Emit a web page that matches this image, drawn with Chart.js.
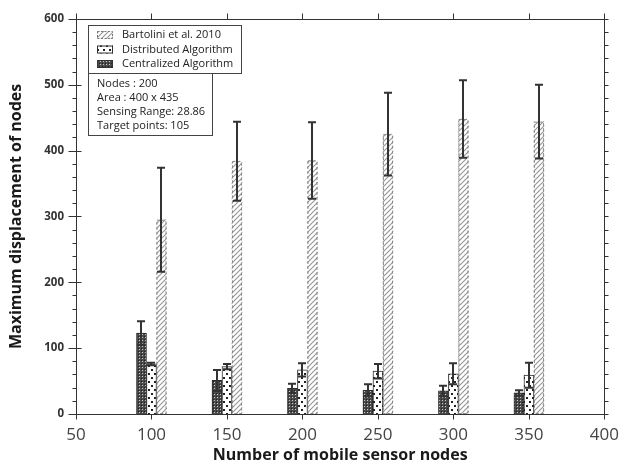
<!DOCTYPE html>
<html>
<head>
<meta charset="utf-8">
<script src="https://cdn.jsdelivr.net/npm/chart.js@4/dist/chart.umd.min.js"></script>
<style>
  html, body { margin: 0; padding: 0; background: #fff; }
  #wrap { width: 630px; height: 465px; }
</style>
</head>
<body>
<div id="wrap"><canvas id="c" width="630" height="465"></canvas></div>
<script>
// Number of mobile sensor nodes (x positions of the bar groups)
const nodeCounts = [100, 150, 200, 250, 300, 350];

// Mean maximum displacement and its spread for each method
const centralizedMean = [123, 51, 39, 36, 35, 32];
const centralizedErr  = [18, 16, 7, 9, 8, 4];
const distributedMean = [76, 72, 67, 65, 61, 59];
const distributedErr  = [2, 4, 10, 11, 16, 19];
const bartoliniMean   = [295, 384, 385, 425, 448, 444];
const bartoliniErr    = [79, 60, 58, 63, 59, 56];

const seriesNames = ['Centralized Algorithm', 'Distributed Algorithm', 'Bartolini et al. 2010'];
const xTicks = [50, 100, 150, 200, 250, 300, 350, 400];
const yTicks = [0, 100, 200, 300, 400, 500, 600];
const infoLines = ['Nodes : 200', 'Area : 400 x 435', 'Sensing Range: 28.86', 'Target points: 105'];

const FONT = '"Open Sans", "Liberation Sans", sans-serif';
const canvas = document.getElementById('c');
const ctx0 = canvas.getContext('2d');

function tile(w, h, paint) {
  const c = document.createElement('canvas');
  c.width = w; c.height = h;
  paint(c.getContext('2d'));
  return ctx0.createPattern(c, 'repeat');
}

// Fill patterns: hatching, dots and a dense checker
const hatchFill = tile(5, 5, g => {
  g.fillStyle = '#fff'; g.fillRect(0, 0, 5, 5);
  g.strokeStyle = '#959595'; g.lineWidth = 1.1;
  g.beginPath();
  g.moveTo(0, 5); g.lineTo(5, 0);
  g.moveTo(-1, 1); g.lineTo(1, -1);
  g.moveTo(4, 6); g.lineTo(6, 4);
  g.stroke();
});
const dotFill = tile(6, 8, g => {
  g.fillStyle = '#fff'; g.fillRect(0, 0, 6, 8);
  g.fillStyle = '#222';
  g.fillRect(1, 1, 2, 2);
  g.fillRect(4, 5, 2, 2);
});
const checkFill = tile(3, 3, g => {
  g.fillStyle = '#4a4a4a'; g.fillRect(0, 0, 3, 3);
  g.fillStyle = '#c8c8c8'; g.fillRect(1, 1, 1, 1);
  g.fillStyle = '#202020'; g.fillRect(0, 0, 1, 1);
});

const fills = [checkFill, dotFill, hatchFill];
const errs = [centralizedErr, distributedErr, bartoliniErr];
const means = [centralizedMean, distributedMean, bartoliniMean];

const datasets = seriesNames.map((name, k) => ({
  label: name,
  data: nodeCounts.map((n, i) => ({ x: n, y: means[k][i] })),
  backgroundColor: fills[k],
  borderColor: k === 2 ? 'rgba(0,0,0,0)' : '#2a2a2a',
  borderWidth: k === 2 ? 0 : 1,
  borderSkipped: 'bottom',
  barThickness: 10,
  grouped: true
}));

const decor = {
  id: 'decor',
  afterDatasetsDraw(chart) {
    const ctx = chart.ctx;
    const ys = chart.scales.y;
    // dashed outline of the hatched bars
    ctx.save();
    ctx.strokeStyle = '#8a8a8a'; ctx.lineWidth = 1; ctx.setLineDash([3, 2]);
    chart.getDatasetMeta(2).data.forEach(b => {
      const p = b.getProps(['x', 'y', 'base', 'width'], true);
      ctx.strokeRect(p.x - p.width / 2 + 0.5, p.y + 0.5, p.width - 1, p.base - p.y - 1);
    });
    ctx.restore();
    // error bars
    ctx.save();
    ctx.strokeStyle = '#333'; ctx.lineWidth = 2;
    chart.data.datasets.forEach((ds, di) => {
      chart.getDatasetMeta(di).data.forEach((b, i) => {
        const v = ds.data[i].y, e = errs[di][i];
        const yt = ys.getPixelForValue(v + e), yb = ys.getPixelForValue(v - e);
        const x = Math.round(b.x);
        ctx.beginPath();
        ctx.moveTo(x, yt); ctx.lineTo(x, yb);
        ctx.moveTo(x - 4, yt); ctx.lineTo(x + 4, yt);
        ctx.moveTo(x - 4, yb); ctx.lineTo(x + 4, yb);
        ctx.stroke();
      });
    });
    ctx.restore();
  },
  afterDraw(chart) {
    const ctx = chart.ctx;
    const a = chart.chartArea;
    const xs = chart.scales.x, ys = chart.scales.y;
    const L = Math.round(a.left) + 0.5, R = Math.round(a.right) + 0.5;
    const T = Math.round(a.top) + 0.5, B = Math.round(a.bottom) + 0.5;
    ctx.save();
    ctx.strokeStyle = '#333'; ctx.lineWidth = 1;
    ctx.strokeRect(L, T, R - L, B - T);
    ctx.beginPath();
    // x ticks (bottom and top)
    xTicks.forEach(v => {
      const x = Math.round(xs.getPixelForValue(v)) + 0.5;
      ctx.moveTo(x, B); ctx.lineTo(x, B + 5);
      ctx.moveTo(x, T); ctx.lineTo(x, T - 6);
    });
    // y ticks: majors every 100, minors every 20
    for (let v = 0; v <= 600; v += 20) {
      const y = Math.round(ys.getPixelForValue(v)) + 0.5;
      if (v % 100 === 0) { ctx.moveTo(L - 8, y); ctx.lineTo(L + 5, y); }
      else { ctx.moveTo(L - 4, y); ctx.lineTo(L, y); }
      ctx.moveTo(R, y); ctx.lineTo(R + 4, y);
    }
    ctx.stroke();

    // legend box
    const lx = 88.5, ly = 25.5, lw = 153, lh = 48;
    ctx.fillStyle = '#fff';
    ctx.fillRect(lx, ly, lw, lh);
    ctx.strokeStyle = '#444';
    ctx.strokeRect(lx, ly, lw, lh);
    ctx.font = '11px ' + FONT;
    ctx.textBaseline = 'middle';
    ctx.textAlign = 'left';
    [2, 1, 0].forEach((k, row) => {
      const cy = 35 + row * 14.5;
      ctx.fillStyle = fills[k];
      ctx.fillRect(97, cy - 4, 16, 8);
      if (k === 2) {
        ctx.save(); ctx.setLineDash([2, 1.5]); ctx.strokeStyle = '#777';
        ctx.strokeRect(97.5, cy - 3.5, 15, 7); ctx.restore();
      } else {
        ctx.strokeStyle = '#333'; ctx.strokeRect(97.5, cy - 3.5, 15, 7);
      }
      ctx.fillStyle = '#222';
      ctx.fillText(chart.data.datasets[k].label, 122, cy);
    });

    // parameter box
    const bx = 88.5, by = 73.5, bw = 124, bh = 62;
    ctx.fillStyle = '#fff';
    ctx.fillRect(bx, by, bw, bh);
    ctx.strokeStyle = '#444';
    ctx.strokeRect(bx, by, bw, bh);
    ctx.fillStyle = '#222';
    infoLines.forEach((t, i) => ctx.fillText(t, 97, 83.5 + i * 14.2));
    ctx.restore();
  }
};

new Chart(canvas, {
  type: 'bar',
  data: { datasets },
  options: {
    responsive: false,
    devicePixelRatio: 1,
    animation: false,
    layout: { padding: { top: 17, right: 14, left: 0, bottom: 0 } },
    plugins: { legend: { display: false }, tooltip: { enabled: false } },
    scales: {
      x: {
        type: 'linear',
        min: 50, max: 400,
        offset: false,
        grid: { display: false, drawTicks: false },
        border: { display: false },
        afterBuildTicks: s => { s.ticks = xTicks.map(v => ({ value: v })); },
        afterFit: s => { s.height = 51; },
        ticks: {
          font: { family: FONT, size: 17 },
          color: '#444',
          padding: 11,
          maxRotation: 0
        },
        title: {
          display: true,
          text: 'Number of mobile sensor nodes',
          font: { family: FONT, size: 16, weight: 'bold' },
          color: '#1a1a1a',
          padding: { top: 2, bottom: 0 }
        }
      },
      y: {
        type: 'linear',
        min: 0, max: 600,
        grid: { display: false, drawTicks: false },
        border: { display: false },
        afterBuildTicks: s => { s.ticks = yTicks.map(v => ({ value: v })); },
        afterFit: s => { s.width = 76; },
        ticks: {
          font: { family: FONT, size: 11.5, weight: 'bold' },
          color: '#333',
          padding: 12
        },
        title: {
          display: true,
          text: 'Maximum displacement of nodes',
          font: { family: FONT, size: 16, weight: 'bold' },
          color: '#1a1a1a',
          padding: { top: 7, bottom: 0 }
        }
      }
    }
  },
  plugins: [decor]
});
</script>
</body>
</html>
